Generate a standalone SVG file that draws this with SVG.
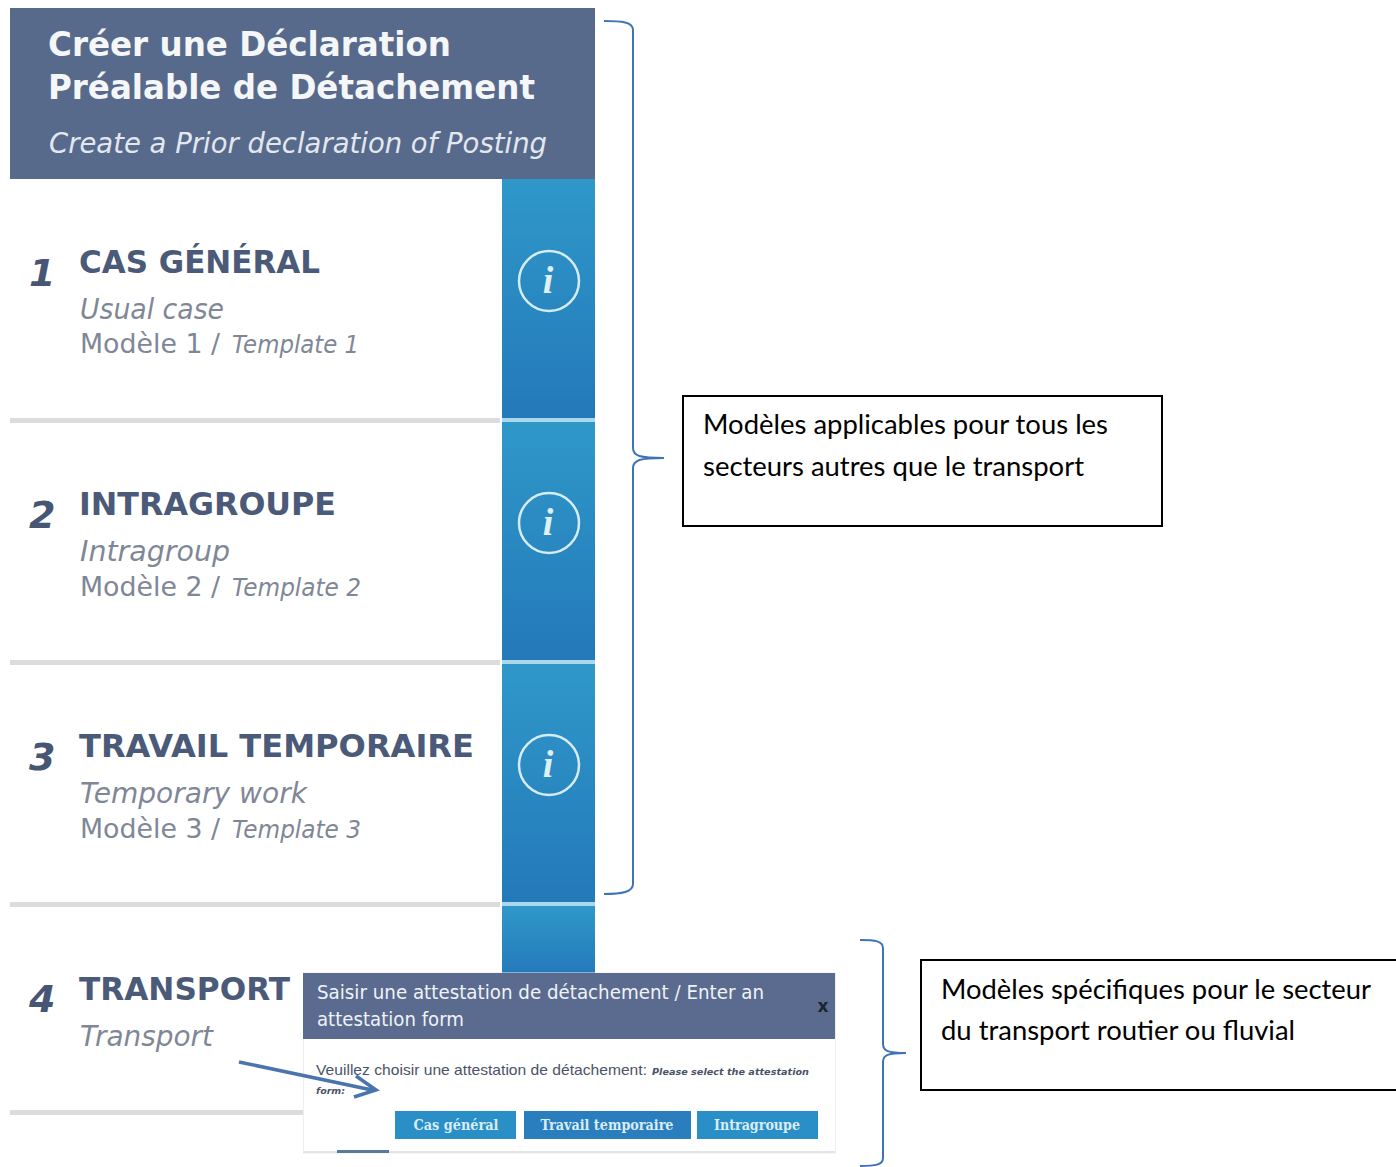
<svg xmlns="http://www.w3.org/2000/svg" width="1396" height="1167" viewBox="0 0 1396 1167">
<style>
text{font-family:"DejaVu Sans","Liberation Sans",sans-serif}
.h{font-weight:bold;fill:#f4f6f8;font-size:33px}
.hs{font-style:italic;fill:#e3e8ee;font-size:29px}
.t{font-family:"DejaVu Sans",sans-serif;font-weight:bold;fill:#4a5a78;font-size:32px}
.n{font-weight:bold;font-style:italic;fill:#465674;font-size:38px}
.s{font-style:italic;fill:#7f8797;font-size:29px}
.m{fill:#7f8797;font-size:27px}
.tp{font-style:italic;fill:#7f8797;font-size:24px}
.sep{fill:#dcdcdc}
.i{fill:none;stroke:#d6ecf5;stroke-width:2.5}
.it{font-family:"Liberation Serif",serif;font-style:italic;font-weight:bold;fill:#dff0f7;font-size:38px;text-anchor:middle}
.br{fill:none;stroke:#3f73b8;stroke-width:2}
.box{fill:#fff;stroke:#000;stroke-width:2}
.c{font-family:Lato,"Open Sans",sans-serif;fill:#000;font-size:27px}
.d{fill:#f0f3f6;font-size:20px}
.b{font-family:"DejaVu Serif",serif;font-weight:bold;fill:#d8edf6;font-size:14px;text-anchor:middle}
.p{font-family:"Liberation Sans",sans-serif;fill:#4a5368;font-size:15px}
.p2{fill:#4a5368;font-size:9.5px;font-style:italic;font-weight:bold}
</style>
<defs>
<linearGradient id="g" x1="0" y1="0" x2="0" y2="1"><stop offset="0" stop-color="#2f98c9"/><stop offset="1" stop-color="#2479b9"/></linearGradient>
</defs>
<rect width="1396" height="1167" fill="#fff"/>
<g id="header">
<rect x="10" y="8" width="585" height="171" fill="#576a8c"/>
<text class="h" x="48" y="56" textLength="403" lengthAdjust="spacingAndGlyphs">Créer une Déclaration</text>
<text class="h" x="48" y="99" textLength="487" lengthAdjust="spacingAndGlyphs">Préalable de Détachement</text>
<text class="hs" x="49" y="153" textLength="498" lengthAdjust="spacingAndGlyphs">Create a Prior declaration of Posting</text>
</g>
<g id="row1">
<rect x="502" y="179" width="93" height="239" fill="url(#g)"/>
<rect class="sep" x="10" y="418" width="490" height="5"/>
<rect x="502" y="418" width="93" height="4" fill="#a9d8ec"/>
<text class="n" x="29" y="286">1</text>
<text class="t" x="79" y="273" textLength="241" lengthAdjust="spacingAndGlyphs">CAS GÉNÉRAL</text>
<text class="s" x="80" y="319" textLength="144" lengthAdjust="spacingAndGlyphs">Usual case</text>
<text class="m" x="80" y="353" textLength="140" lengthAdjust="spacingAndGlyphs">Modèle 1 /</text>
<text class="tp" x="232" y="353" textLength="127" lengthAdjust="spacingAndGlyphs">Template 1</text>
<circle class="i" cx="549" cy="281" r="30"/>
<text class="it" x="548" y="293">i</text>
</g>
<g id="row2">
<rect x="502" y="422" width="93" height="238" fill="url(#g)"/>
<rect class="sep" x="10" y="660" width="490" height="5"/>
<rect x="502" y="660" width="93" height="4" fill="#a9d8ec"/>
<text class="n" x="29" y="528">2</text>
<text class="t" x="79" y="515" textLength="257" lengthAdjust="spacingAndGlyphs">INTRAGROUPE</text>
<text class="s" x="80" y="561" textLength="150" lengthAdjust="spacingAndGlyphs">Intragroup</text>
<text class="m" x="80" y="596" textLength="140" lengthAdjust="spacingAndGlyphs">Modèle 2 /</text>
<text class="tp" x="232" y="596" textLength="129" lengthAdjust="spacingAndGlyphs">Template 2</text>
<circle class="i" cx="549" cy="523" r="30"/>
<text class="it" x="548" y="535">i</text>
</g>
<g id="row3">
<rect x="502" y="664" width="93" height="239" fill="url(#g)"/>
<rect class="sep" x="10" y="902" width="490" height="5"/>
<rect x="502" y="902" width="93" height="4" fill="#a9d8ec"/>
<text class="n" x="29" y="770">3</text>
<text class="t" x="79" y="757" textLength="395" lengthAdjust="spacingAndGlyphs">TRAVAIL TEMPORAIRE</text>
<text class="s" x="80" y="803" textLength="227" lengthAdjust="spacingAndGlyphs">Temporary work</text>
<text class="m" x="80" y="838" textLength="140" lengthAdjust="spacingAndGlyphs">Modèle 3 /</text>
<text class="tp" x="232" y="838" textLength="129" lengthAdjust="spacingAndGlyphs">Template 3</text>
<circle class="i" cx="549" cy="765" r="30"/>
<text class="it" x="548" y="777">i</text>
</g>
<g id="row4">
<rect x="502" y="906" width="93" height="70" fill="url(#g)"/>
<rect class="sep" x="10" y="1110" width="293" height="5"/>
<text class="n" x="29" y="1012">4</text>
<text class="t" x="79" y="1000" textLength="211" lengthAdjust="spacingAndGlyphs">TRANSPORT</text>
<text class="s" x="80" y="1046" textLength="133" lengthAdjust="spacingAndGlyphs">Transport</text>
</g>
<g id="dialog">
<rect x="303.5" y="973" width="532" height="180" fill="#fff" stroke="#eceff2"/>
<rect x="303" y="973" width="532" height="66" fill="#5a6b8f"/>
<text class="d" x="317" y="999" textLength="447" lengthAdjust="spacingAndGlyphs">Saisir une attestation de détachement / Enter an</text>
<text class="d" x="317" y="1026" textLength="147" lengthAdjust="spacingAndGlyphs">attestation form</text>
<text x="823" y="1012" text-anchor="middle" font-size="17" font-weight="bold" fill="#1e2430">x</text>
<text class="p" x="316" y="1075" textLength="331" lengthAdjust="spacingAndGlyphs">Veuillez choisir une attestation de détachement:</text>
<text class="p2" x="652" y="1075" textLength="157" lengthAdjust="spacingAndGlyphs">Please select the attestation</text>
<text class="p2" x="316" y="1094" textLength="29" lengthAdjust="spacingAndGlyphs">form:</text>
<rect x="395" y="1111" width="121" height="28" fill="#2a8fc6"/>
<text class="b" x="456" y="1130" textLength="85" lengthAdjust="spacingAndGlyphs">Cas général</text>
<rect x="524" y="1111" width="167" height="28" fill="#2a7ebd"/>
<text class="b" x="607" y="1130" textLength="133" lengthAdjust="spacingAndGlyphs">Travail temporaire</text>
<rect x="697" y="1111" width="121" height="28" fill="#2a8fc6"/>
<text class="b" x="757" y="1130" textLength="86" lengthAdjust="spacingAndGlyphs">Intragroupe</text>
<rect x="303" y="1151" width="532" height="2" fill="#e4e4e4"/>
<rect x="337" y="1150" width="52" height="3" fill="#5a7a9a"/>
</g>
<g id="connectors">
<path d="M239 1062 L372 1090 M356 1076 L376 1090 L354 1097" fill="none" stroke="#4a74ad" stroke-width="3.5"/>
<path class="br" d="M604 21 C622 21 633 22 633 30 V448 C633 456 640 458 664 458 C640 458 633 460 633 468 V884 C633 892 622 894 604 894"/>
<path class="br" d="M860 940 C875 940 883 941 883 948 V1044 C883 1051 888 1053 906 1053 C888 1053 883 1055 883 1062 V1158 C883 1165 875 1166 860 1166"/>
</g>
<g id="note1">
<rect class="box" x="683" y="396" width="479" height="130"/>
<text class="c" x="703" y="434" textLength="405" lengthAdjust="spacingAndGlyphs">Modèles applicables pour tous les</text>
<text class="c" x="703" y="476" textLength="381" lengthAdjust="spacingAndGlyphs">secteurs autres que le transport</text>
</g>
<g id="note2">
<rect class="box" x="921" y="960" width="479" height="130"/>
<text class="c" x="941" y="999" textLength="430" lengthAdjust="spacingAndGlyphs">Modèles spécifiques pour le secteur</text>
<text class="c" x="941" y="1040" textLength="354" lengthAdjust="spacingAndGlyphs">du transport routier ou fluvial</text>
</g>
</svg>
